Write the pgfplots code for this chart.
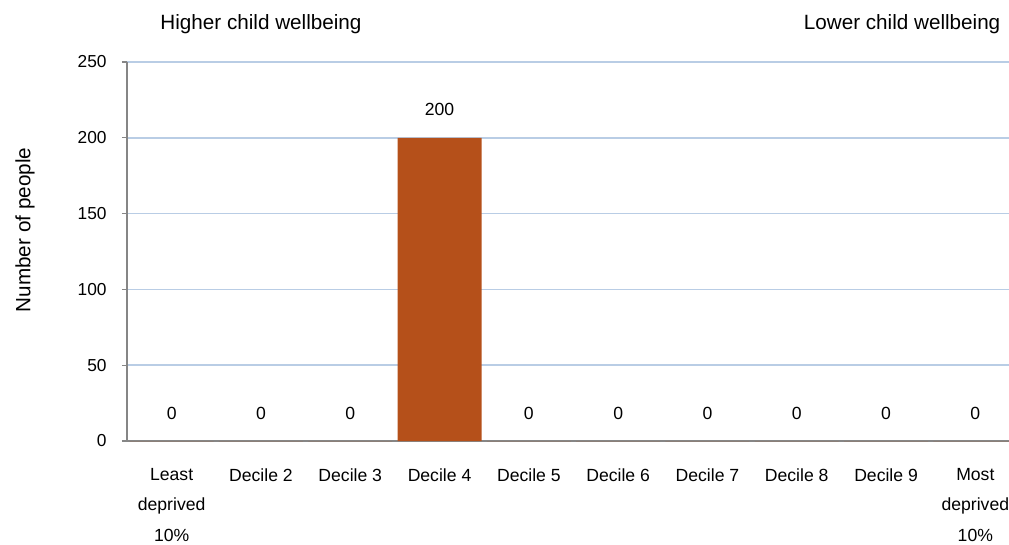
\documentclass[border=0pt]{standalone}
\usepackage{fontspec}
\setmainfont{Liberation Sans}
\usepackage{pgfplots}
\pgfplotsset{compat=1.18}
\definecolor{barc}{HTML}{B5501A}
\definecolor{gridc}{HTML}{B9CDE5}
\definecolor{axc}{HTML}{868686}
\begin{document}
\begin{tikzpicture}
\begin{axis}[
  at={(0pt,0pt)}, anchor=south west,
  scale only axis, width=661.5pt, height=284.25pt,
  xmin=-0.5, xmax=9.377, ymin=0, ymax=250,
  axis lines=left, axis line style={-, draw=axc, line width=0.9pt},
  ytick={0,50,...,250},
  ymajorgrids, major grid style={draw=gridc, line width=1.2pt},
  tick align=outside, tick style={draw=axc, line width=0.9pt},
  major tick length=3.75pt,
  xtick={0,...,9},
  xticklabels={{Least\\deprived\\10\%},Decile 2,Decile 3,Decile 4,Decile 5,Decile 6,Decile 7,Decile 8,Decile 9,{Most\\deprived\\10\%}},
  x tick style={draw=none},
  extra x ticks={-0.5,0.5,...,8.5},
  extra x tick labels={},
  extra x tick style={tick style={draw=axc, line width=0.9pt}, major tick length=3.75pt, grid=none},
  xticklabel style={align=center, anchor=north, yshift=-13.5pt, font=\fontsize{13.2}{22.6}\selectfont},
  yticklabel style={font=\fontsize{13}{15}\selectfont, anchor=east, xshift=-8pt},
  /pgf/number format/assume math mode=true,
  ybar, bar width=0.94,
  nodes near coords,
  every node near coord/.append style={font=\fontsize{13.2}{15}\selectfont, anchor=base, yshift=16.5pt, black},
  clip=false,
]
\addplot[fill=barc, draw=none] coordinates {(0,0) (1,0) (2,0) (3,200) (4,0) (5,0) (6,0) (7,0) (8,0) (9,0)};
\end{axis}
\node[font=\fontsize{15.5}{18}\selectfont] at (100.5pt,312.75pt) {Higher child wellbeing};
\node[font=\fontsize{15.5}{18}\selectfont, anchor=east] at (658.5pt,312.75pt) {Lower child wellbeing};
\node[font=\fontsize{15.5}{18}\selectfont, rotate=90] at (-76.5pt,158.25pt) {Number of people};
\pgfresetboundingbox
\path[use as bounding box] (-95.25pt,-77.25pt) rectangle (661.5pt,330.75pt);
\end{tikzpicture}
\end{document}
